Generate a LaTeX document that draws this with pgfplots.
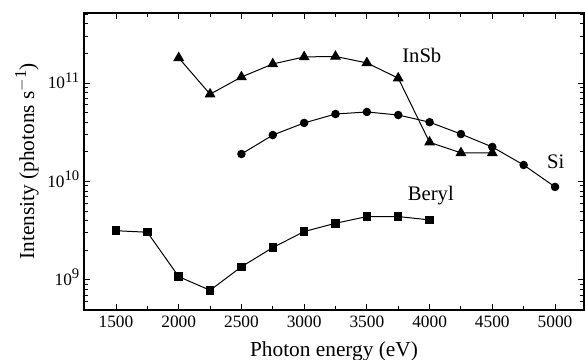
\documentclass[border=0pt]{standalone}
\usepackage{pgfplots}
\pgfplotsset{compat=1.18}
\usepackage{fontspec}
\setmainfont{Liberation Serif}
\newcommand{\sups}[1]{\raisebox{5pt}{\fontsize{11}{13}\selectfont #1}}
\begin{document}
\begin{tikzpicture}[x=1pt,y=1pt]
\path[use as bounding box] (0,0) rectangle (438.75,270);
\begin{axis}[
  at={(63pt,37.5pt)}, anchor=south west, scale only axis,
  width=375pt, height=222.75pt,
  xmin=1245, xmax=5231,
  ymode=log, ymin=4.95e8, ymax=5.14e11,
  axis line style={line width=1pt},
  xtick={1500,2000,...,5000},
  minor xtick={1750,2250,...,4750},
  ytick={1e9,1e10,1e11},
  minor ytick={6e8,7e8,8e8,9e8,2e9,3e9,4e9,5e9,6e9,7e9,8e9,9e9,2e10,3e10,4e10,5e10,6e10,7e10,8e10,9e10,2e11,3e11,4e11,5e11},
  yticklabels={10\sups{9},10\sups{10},10\sups{11}},
  tick style={black, line width=0.7pt},
  major tick length=4.5pt, minor tick length=3pt,
  /pgf/number format/1000 sep={},
  /pgf/number format/assume math mode=true,
  tick label style={font=\fontsize{13}{15}\selectfont},
  y tick label style={anchor=base east, yshift=-4.3pt, xshift=0pt},
  x tick label style={yshift=-1pt},
  xlabel={Photon energy (eV)},
  ylabel={Intensity (photons s\raisebox{6pt}{\fontsize{12.5}{14}\selectfont $-$1})},
  label style={font=\fontsize{16}{18}\selectfont},
  xlabel style={at={(axis description cs:0.5,0)}, anchor=base, yshift=-35.25pt},
  ylabel style={at={(axis description cs:0,0.5)}, anchor=center, yshift=42.75pt},
  every axis plot/.append style={black, line width=0.75pt},
  clip=false,
]
% InSb
\addplot[mark=triangle*, mark size=4pt, mark options={solid}] coordinates {
(2000,1.8e11) (2250,7.7e10) (2500,1.15e11) (2750,1.56e11) (3000,1.84e11)
(3250,1.86e11) (3500,1.6e11) (3750,1.12e11) (4000,2.5e10) (4250,1.95e10) (4500,1.95e10)};
% Si
\addplot[mark=*, mark size=2.8pt] coordinates {
(2500,1.9e10) (2750,2.96e10) (3000,3.93e10) (3250,4.84e10) (3500,5.08e10)
(3750,4.73e10) (4000,4.0e10) (4250,3.03e10) (4500,2.24e10) (4750,1.47e10) (5000,8.8e9)};
% Beryl
\addplot[mark=square*, mark size=2.8pt] coordinates {
(1500,3.16e9) (1750,3.05e9) (2000,1.08e9) (2250,7.85e8) (2500,1.36e9)
(2750,2.13e9) (3000,3.1e9) (3250,3.76e9) (3500,4.4e9) (3750,4.4e9) (4000,4.07e9)};
\node[font=\fontsize{15.5}{17}\selectfont] at (axis cs:3938,1.92e11) {InSb};
\node[font=\fontsize{15.5}{17}\selectfont] at (axis cs:5006,1.6e10) {Si};
\node[font=\fontsize{15.5}{17}\selectfont] at (axis cs:4010,7.2e9) {Beryl};
\end{axis}
\end{tikzpicture}
\end{document}
